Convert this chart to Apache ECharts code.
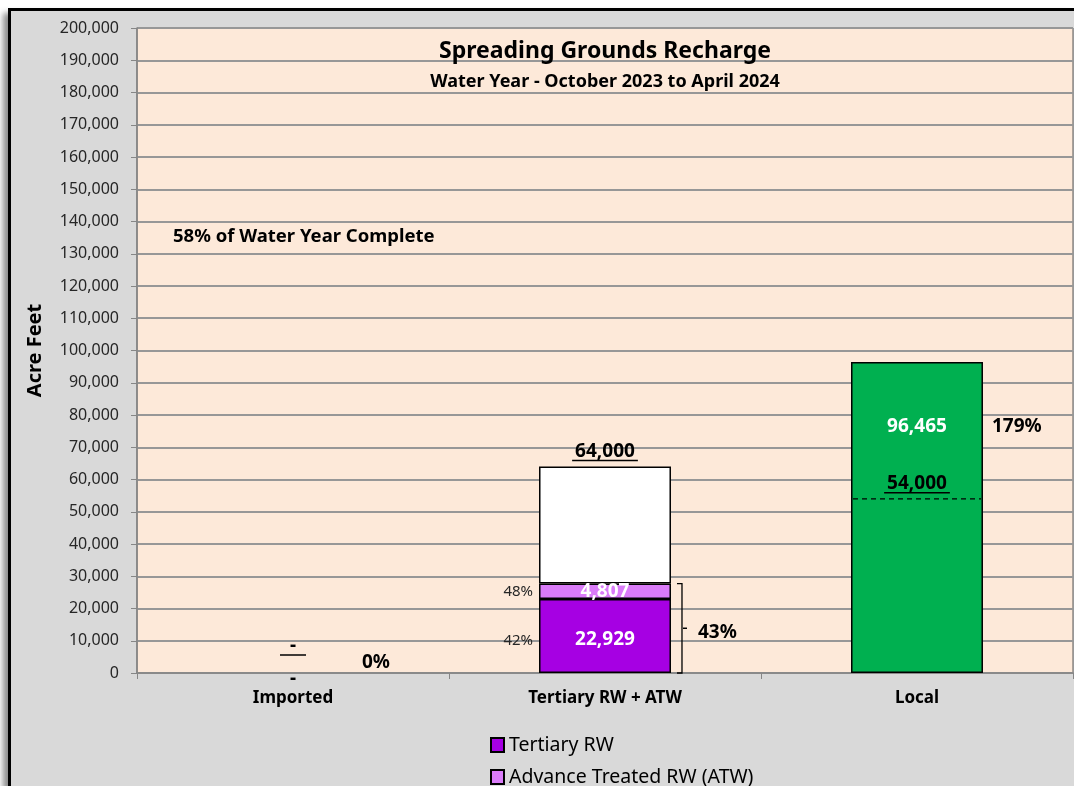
<!DOCTYPE html>
<html>
<head>
<meta charset="utf-8">
<script src="https://cdn.jsdelivr.net/npm/echarts@6/dist/echarts.min.js"></script>
<style>
  body { margin: 0; background: #fff; }
  #frame {
    position: absolute; left: 8px; top: 8px;
    border-left: 3px solid #000; border-top: 3px solid #000;
    box-shadow: -5px 5px 6px rgba(0, 0, 0, 0.45);
    background: #d9d9d9;
  }
  #main { width: 1063px; height: 775px; }
</style>
</head>
<body>
<div id="frame"><div id="main"></div></div>
<script>
// chart data
const categories = ['Imported', 'Tertiary RW + ATW', 'Local']
const tertiaryRW = [null, 22929, null]
const atwRW = [null, 4807, null]
const remaining = [null, 36264, null] // white part up to the target
const local = [null, null, 96465]
const targets = [0, 64000, 54000]
const tertiaryShare = [null, '42%', null]
const atwShare = [null, '48%', null]
const yearComplete = '58% of Water Year Complete'

const FONT = '"Noto Sans", sans-serif'
const BOLD = 'bold 19px ' + FONT
const BAR_RATIO = 0.423
const fmt = echarts.format.addCommas

const measureCtx = document.createElement('canvas').getContext('2d')
function textWidth (text, font) {
  measureCtx.font = font
  return measureCtx.measureText(text).width
}

// target labels, percent labels, bracket etc.
function renderNotes (params, api) {
  const i = api.value(0)
  const base = api.coord([i, 0])
  const cx = base[0]
  const zeroY = base[1]
  const barW = api.size([1, 0])[0] * BAR_RATIO
  const left = cx - barW / 2
  const right = cx + barW / 2
  const actual = (tertiaryRW[i] || 0) + (atwRW[i] || 0) + (local[i] || 0)
  const target = targets[i]
  const ty = api.coord([i, target])[1]
  const kids = []

  // target value, underlined
  const tText = target ? fmt(target) : '-'
  const lineY = ty - (target ? 6 : 18)
  const tw = Math.max(textWidth(tText, BOLD) + 6, 26)
  kids.push({ type: 'text', style: { text: tText, x: cx, y: lineY - 9, align: 'center', verticalAlign: 'middle', font: BOLD, fill: '#000' } })
  kids.push({ type: 'line', shape: { x1: cx - tw / 2, y1: lineY, x2: cx + tw / 2, y2: lineY }, style: { stroke: '#000', lineWidth: 1.5 } })

  if (target && actual > target) {
    kids.push({ type: 'line', shape: { x1: left + 2, y1: ty, x2: right - 2, y2: ty }, style: { stroke: '#000', lineWidth: 1.3, lineDash: [5, 4] } })
  }

  const pct = target ? Math.round(actual / target * 100) + '%' : '0%'
  if (!actual) {
    kids.push({ type: 'text', style: { text: '-', x: cx, y: zeroY + 6, align: 'center', verticalAlign: 'middle', font: BOLD, fill: '#000' } })
    kids.push({ type: 'text', style: { text: pct, x: cx + 83, y: zeroY - 10, align: 'center', verticalAlign: 'middle', font: BOLD, fill: '#000' } })
  } else if (atwRW[i]) {
    const topY = api.coord([i, actual])[1]
    const midY = (topY + zeroY) / 2
    const bx = right + 11
    kids.push({ type: 'polyline', shape: { points: [[bx - 5, topY], [bx, topY], [bx, zeroY], [bx - 5, zeroY]] }, style: { stroke: '#000', lineWidth: 1.3, fill: null } })
    kids.push({ type: 'line', shape: { x1: bx + 1, y1: midY, x2: bx + 5, y2: midY }, style: { stroke: '#000', lineWidth: 1.5 } })
    kids.push({ type: 'text', style: { text: pct, x: right + 27, y: midY + 4, align: 'left', verticalAlign: 'middle', font: BOLD, fill: '#000' } })
  } else {
    const topY = api.coord([i, actual])[1]
    kids.push({ type: 'text', style: { text: pct, x: right + 9, y: topY + 65, align: 'left', verticalAlign: 'middle', font: BOLD, fill: '#000' } })
  }

  // share of each segment, left of the bar
  if (tertiaryShare[i]) {
    const y = api.coord([i, tertiaryRW[i] / 2])[1] + 5
    kids.push({ type: 'text', style: { text: tertiaryShare[i], x: left - 6, y: y, align: 'right', verticalAlign: 'middle', font: '15px ' + FONT, fill: '#262626' } })
  }
  if (atwShare[i]) {
    const y = api.coord([i, tertiaryRW[i] + atwRW[i] / 2])[1]
    kids.push({ type: 'text', style: { text: atwShare[i], x: left - 6, y: y, align: 'right', verticalAlign: 'middle', font: '15px ' + FONT, fill: '#262626' } })
  }
  return { type: 'group', children: kids }
}

const chart = echarts.init(document.getElementById('main'))

const barBase = {
  type: 'bar',
  stack: 'total',
  barWidth: (BAR_RATIO * 100) + '%',
  itemStyle: { borderColor: '#000', borderWidth: 1.5 },
  label: {
    show: true,
    position: 'inside',
    color: '#fff',
    fontWeight: 'bold',
    fontSize: 19,
    fontFamily: FONT,
    formatter: p => fmt(p.value)
  }
}

chart.setOption({
  animation: false,
  textStyle: { fontFamily: FONT },
  title: {
    text: 'Spreading Grounds Recharge',
    subtext: 'Water Year - October 2023 to April 2024',
    left: 589,
    top: 24,
    textAlign: 'center',
    itemGap: 10,
    textStyle: { fontSize: 23, fontWeight: 'bold', color: '#000', fontFamily: FONT },
    subtextStyle: { fontSize: 18, fontWeight: 'bold', color: '#000', fontFamily: FONT }
  },
  graphic: [{
    type: 'text',
    left: 162,
    top: 216,
    z: 10,
    style: { text: yearComplete, font: 'bold 18.5px ' + FONT, fill: '#000' }
  }],
  legend: {
    orient: 'vertical',
    left: 474,
    top: 719,
    height: 80,
    icon: 'rect',
    itemWidth: 13,
    itemHeight: 14,
    itemGap: 12,
    data: ['Tertiary RW', 'Advance Treated RW (ATW)'],
    textStyle: { fontSize: 19.5, color: '#000', fontFamily: FONT }
  },
  grid: {
    left: 126,
    right: 1,
    top: 17,
    bottom: 113,
    show: true,
    backgroundColor: '#fde9d9',
    borderColor: '#595959',
    borderWidth: 1
  },
  xAxis: {
    type: 'category',
    data: categories,
    axisLine: { lineStyle: { color: '#868686', width: 1.5 } },
    axisTick: { show: true, length: 6, lineStyle: { color: '#868686' } },
    axisLabel: { margin: 17, fontSize: 17, fontWeight: 'bold', color: '#000', fontFamily: FONT }
  },
  yAxis: {
    type: 'value',
    min: 0,
    max: 200000,
    interval: 10000,
    name: 'Acre Feet',
    nameLocation: 'middle',
    nameGap: 92,
    nameTextStyle: { fontSize: 20, fontWeight: 'bold', color: '#000', fontFamily: FONT },
    axisLine: { show: true, lineStyle: { color: '#868686', width: 1.5 } },
    axisTick: { show: true, length: 6, lineStyle: { color: '#868686' } },
    axisLabel: { margin: 18, fontSize: 16, color: '#262626', fontFamily: FONT, formatter: v => fmt(v) },
    splitLine: { lineStyle: { color: '#979797', width: 2 } }
  },
  series: [
    Object.assign({}, barBase, {
      name: 'Tertiary RW',
      data: tertiaryRW,
      itemStyle: { color: '#a600e3', borderColor: '#000', borderWidth: 1.5 },
      label: Object.assign({}, barBase.label, { offset: [0, 4] })
    }),
    Object.assign({}, barBase, { name: 'Advance Treated RW (ATW)', data: atwRW, itemStyle: { color: '#da7cf9', borderColor: '#000', borderWidth: 1.5 } }),
    Object.assign({}, barBase, { name: 'Remaining', data: remaining, itemStyle: { color: '#fff', borderColor: '#000', borderWidth: 1.5 }, label: { show: false } }),
    Object.assign({}, barBase, {
      name: 'Local',
      data: local,
      itemStyle: { color: '#00b050', borderColor: '#000', borderWidth: 1.5 },
      label: Object.assign({}, barBase.label, { position: ['50%', 65], align: 'center', verticalAlign: 'middle' })
    }),
    {
      type: 'custom',
      name: 'notes',
      silent: true,
      clip: false,
      z: 5,
      data: categories.map((c, i) => [i, 0]),
      renderItem: renderNotes
    }
  ]
})
</script>
</body>
</html>
